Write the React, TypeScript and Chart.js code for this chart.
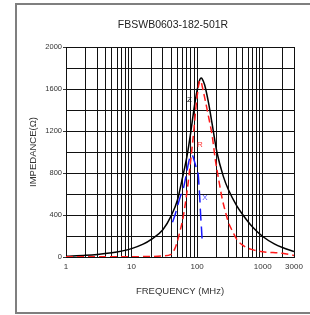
import React, { useEffect, useRef } from "react";
import { Chart, registerables } from "chart.js";

Chart.register(...registerables);

const TITLE = "FBSWB0603-182-501R";
const X_TITLE = "FREQUENCY (MHz)";
const Y_TITLE = "IMPEDANCE(Ω)";

// Z (impedance) curve
const zFreq = [1, 2, 3, 5, 7, 10, 15, 20, 30, 40, 50, 60, 70, 80, 90, 100, 110, 115, 120, 130, 150, 170, 200, 250, 300, 400, 500, 700, 1000, 1500, 2000, 3000];
const zVals = [8, 16, 24, 40, 56, 80, 122, 168, 260, 390, 540, 760, 960, 1190, 1420, 1590, 1690, 1705, 1695, 1640, 1460, 1260, 1000, 770, 640, 490, 400, 285, 195, 125, 90, 52];

// R (resistance) curve
const rFreq = [1, 10, 20, 30, 40, 45, 50, 55, 60, 65, 70, 75, 80, 85, 90, 95, 100, 105, 110, 115, 120, 130, 150, 170, 190, 210, 240, 270, 300, 350, 400, 500, 700, 1000, 2000, 3000];
const rVals = [2, 3, 5, 10, 25, 70, 150, 250, 350, 480, 620, 770, 930, 1080, 1240, 1400, 1530, 1630, 1680, 1670, 1620, 1520, 1330, 1150, 920, 760, 560, 430, 330, 240, 170, 110, 70, 50, 35, 15];

// X (reactance) curve
const xFreq = [42, 46, 50, 55, 61.5, 70, 76, 82, 86, 90, 97, 104, 107, 110, 113, 116.5, 119.5];
const xVals = [330, 400, 480, 570, 650, 820, 930, 975, 960, 920, 850, 780, 670, 545, 400, 270, 145];

const xGridTicks = [1, 2, 3, 4, 5, 6, 7, 8, 9, 10, 20, 30, 40, 50, 60, 70, 80, 90, 100, 200, 300, 400, 500, 600, 700, 800, 900, 1000, 2000, 3000];
const xTickLabels = [1, 10, 100, 1000, 3000];
const yGridTicks = [0, 200, 400, 600, 800, 1000, 1200, 1400, 1600, 1800, 2000];
const yTickLabels = [0, 400, 800, 1200, 1600, 2000];

const curveLabelTexts = ["Z", "R", "X"];
const curveLabelFreqs = [76, 110, 131];
const curveLabelVals = [1500, 1070, 560];
const curveLabelColors = ["#111111", "#ff3030", "#5050ff"];

const FONT = "'Liberation Sans', Arial, sans-serif";

const toPoints = (fs: number[], vs: number[]) => fs.map((f, i) => ({ x: f, y: vs[i] }));

const decorPlugin = {
  id: "decor",
  beforeDraw(chart: any) {
    const ctx = chart.ctx;
    ctx.save();
    ctx.strokeStyle = "#7f7f7f";
    ctx.lineWidth = 2;
    ctx.strokeRect(16, 4, 296, 309);
    ctx.fillStyle = "#222";
    ctx.font = `10.5px ${FONT}`;
    ctx.textAlign = "center";
    ctx.textBaseline = "middle";
    const ca = chart.chartArea;
    ctx.fillText(TITLE, (ca.left + ca.right) / 2 - 7, 25);
    ctx.restore();
  },
  afterDatasetsDraw(chart: any) {
    const ctx = chart.ctx;
    const xs = chart.scales.x;
    const ys = chart.scales.y;
    ctx.save();
    ctx.font = `8px ${FONT}`;
    ctx.textAlign = "center";
    ctx.textBaseline = "middle";
    curveLabelTexts.forEach((t, i) => {
      ctx.fillStyle = curveLabelColors[i];
      ctx.fillText(t, xs.getPixelForValue(curveLabelFreqs[i]), ys.getPixelForValue(curveLabelVals[i]));
    });
    ctx.restore();
  },
};

export default function App() {
  const ref = useRef<HTMLCanvasElement | null>(null);
  useEffect(() => {
    if (!ref.current) return;
    const chart = new Chart(ref.current, {
      type: "line",
      data: {
        datasets: [
          {
            label: "R",
            data: toPoints(rFreq, rVals),
            borderColor: "#ff1a1a",
            borderWidth: 1.5,
            borderDash: [7, 4],
            pointRadius: 0,
            cubicInterpolationMode: "monotone",
            fill: false,
          },
          {
            label: "X",
            data: toPoints(xFreq, xVals),
            borderColor: "#1a1aff",
            borderWidth: 1.5,
            borderDash: [12, 6],
            pointRadius: 0,
            cubicInterpolationMode: "monotone",
            fill: false,
          },
          {
            label: "Z",
            data: toPoints(zFreq, zVals),
            borderColor: "#000000",
            borderWidth: 1.5,
            pointRadius: 0,
            cubicInterpolationMode: "monotone",
            fill: false,
          },
        ],
      },
      options: {
        animation: false,
        responsive: false,
        maintainAspectRatio: false,
        layout: { padding: { left: 0, right: 16, top: 47, bottom: 0 } },
        plugins: { legend: { display: false }, title: { display: false }, tooltip: { enabled: false } },
        scales: {
          x: {
            type: "logarithmic",
            min: 1,
            max: 3000,
            afterBuildTicks: (s: any) => {
              s.ticks = xGridTicks.map((v) => ({ value: v }));
            },
            afterFit: (s: any) => {
              s.height = 58;
            },
            ticks: {
              autoSkip: false,
              maxRotation: 0,
              padding: 5,
              color: "#333",
              font: { family: FONT, size: 8 },
              callback: (v: any) => (xTickLabels.includes(Number(v)) ? String(v) : ""),
            },
            grid: { color: "#111", lineWidth: 1, drawTicks: false },
            border: { color: "#111" },
            title: {
              display: true,
              text: X_TITLE,
              color: "#333",
              font: { family: FONT, size: 9.5 },
              padding: { top: 0, bottom: 17.6 },
            },
          },
          y: {
            type: "linear",
            min: 0,
            max: 2000,
            afterBuildTicks: (s: any) => {
              s.ticks = yGridTicks.map((v) => ({ value: v }));
            },
            afterFit: (s: any) => {
              s.width = 66;
            },
            ticks: {
              autoSkip: false,
              padding: 1,
              color: "#333",
              font: { family: FONT, size: 7.5 },
              callback: (v: any) => (yTickLabels.includes(Number(v)) ? String(v) : ""),
            },
            grid: {
              color: "#111",
              lineWidth: 1,
              tickLength: 3,
              tickColor: (c: any) => (c.tick && yTickLabels.includes(c.tick.value) ? "#333" : "rgba(0,0,0,0)"),
            },
            border: { color: "#111" },
            title: {
              display: true,
              text: Y_TITLE,
              color: "#333",
              font: { family: FONT, size: 9.5 },
              padding: { top: 27.3, bottom: 0 },
            },
          },
        },
      },
      plugins: [decorPlugin],
    } as any);
    return () => chart.destroy();
  }, []);
  return (
    <div style={{ position: "fixed", left: 0, top: 0, width: 310, height: 315, background: "#fff" }}>
      <canvas ref={ref} width={310} height={315} style={{ width: 310, height: 315, display: "block" }} />
    </div>
  );
}
